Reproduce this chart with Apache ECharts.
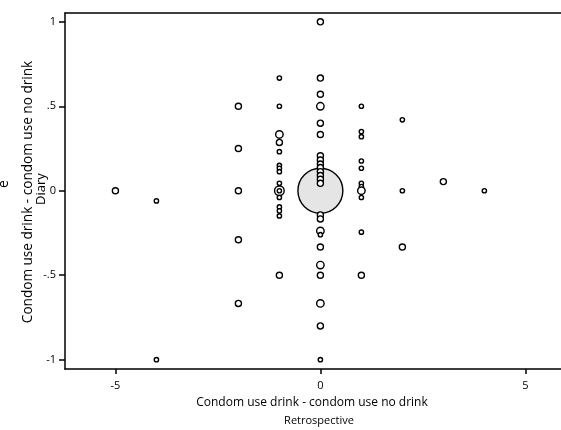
<!DOCTYPE html>
<html>
<head>
<meta charset="utf-8">
<script src="https://cdn.jsdelivr.net/npm/echarts@6/dist/echarts.min.js"></script>
<style>
html,body{margin:0;padding:0;background:#fff;}
#chart{width:561px;height:430px;}
</style>
</head>
<body>
<div id="chart"></div>
<script>
// Retrospective difference (x), Diary difference (y), frequency weight (w)
const xVals = [0,
  -5, -4, -4,
  -2, -2, -2, -2, -2,
  -1, -1, -1, -1, -1, -1, -1, -1, -1, -1, -1, -1, -1, -1, -1, -1,
  0, 0, 0, 0, 0, 0, 0, 0, 0, 0, 0, 0, 0, 0, 0, 0, 0, 0, 0, 0, 0, 0, 0, 0,
  1, 1, 1, 1, 1, 1, 1, 1, 1, 1, 1,
  2, 2, 2,
  3, 4];
const yVals = [0,
  0, -0.06, -1,
  0.5, 0.25, 0, -0.29, -0.667,
  0.667, 0.5, 0.333, 0.286, 0.231, 0.15, 0.133, 0.113, 0.044, 0, 0, -0.04, -0.096, -0.119, -0.149, -0.5,
  1, 0.667, 0.571, 0.5, 0.4, 0.333, 0.207, 0.182, 0.158, 0.137, 0.113, 0.09, 0.068, 0.044, -0.143, -0.167, -0.238, -0.26, -0.333, -0.44, -0.5, -0.667, -0.8, -1,
  0.5, 0.35, 0.32, 0.176, 0.133, 0.044, 0.025, 0, -0.04, -0.245, -0.5,
  0.42, 0, -0.333,
  0.054, 0];
const weights = [121,
  2, 1, 1,
  2, 2, 2, 2, 2,
  1, 1, 3, 2, 1, 1, 1, 1, 1, 5, 1, 1, 1, 1, 1, 2,
  2, 2, 2, 3, 2, 2, 2, 2, 2, 2, 2, 2, 2, 2, 2, 2, 3, 1, 2, 3, 2, 3, 2, 1,
  1, 1, 1, 1, 1, 1, 1, 3, 1, 1, 2,
  1, 1, 2,
  2, 1];
const xTicks = [-5, 0, 5];
const xTickLabels = ['-5', '0', '5'];
const yTicks = [-1, -0.5, 0, 0.5, 1];
const yTickLabels = ['-1', '-.5', '0', '.5', '1'];
const xTitle = 'Condom use drink - condom use no drink';
const xSubTitle = 'Retrospective';
const yTitle = 'Condom use drink - condom use no drink';
const ySubTitle = 'Diary';

const points = xVals.map((x, i) => [x, yVals[i], weights[i]]);

const FONT = 'Open Sans';
const chart = echarts.init(document.getElementById('chart'), null, {renderer: 'canvas'});
const axisLine = {show: true, onZero: false, lineStyle: {color: '#000', width: 1.5}};
chart.setOption({
  animation: false,
  backgroundColor: '#fff',
  grid: {left: 65, top: 13, right: 0, bottom: 61, containLabel: false},
  xAxis: [{
    type: 'value', min: -6.23, max: 5.87,
    axisLine: axisLine,
    axisTick: {show: true, length: 5, lineStyle: {color: '#000', width: 1.5}, customValues: xTicks},
    axisLabel: {color: '#000', fontFamily: FONT, fontSize: 11, margin: 11, customValues: xTicks,
      formatter: v => xTickLabels[xTicks.indexOf(v)] ?? ''},
    splitLine: {show: false}
  }, {
    type: 'value', min: -6.23, max: 5.87, position: 'top',
    axisLine: axisLine, axisTick: {show: false}, axisLabel: {show: false}, splitLine: {show: false}
  }],
  yAxis: {
    type: 'value', min: -1.055, max: 1.052,
    axisLine: axisLine,
    axisTick: {show: true, length: 6, lineStyle: {color: '#000', width: 1.5}, customValues: yTicks},
    axisLabel: {color: '#000', fontFamily: FONT, fontSize: 11, margin: 9, customValues: yTicks,
      formatter: v => yTickLabels[yTicks.findIndex(t => Math.abs(t - v) < 1e-9)] ?? ''},
    splitLine: {show: false}
  },
  series: [{
    type: 'scatter',
    data: points,
    symbol: 'circle',
    symbolSize: v => 4.3 * Math.sqrt(v[2]) * (v[2] > 50 ? 0.95 : 1),
    itemStyle: {
      color: p => p.value[2] > 50 ? '#e5e5e5' : '#ffffff',
      borderColor: '#000', borderWidth: 1.4, opacity: 1
    },
    emphasis: {disabled: true}
  }],
  graphic: [
    {type: 'text', x: 312, y: 403, style: {text: xTitle, fill: '#000', font: '12px "' + FONT + '"', align: 'center', verticalAlign: 'middle'}},
    {type: 'text', x: 319, y: 421, style: {text: xSubTitle, fill: '#000', font: '11px "' + FONT + '"', align: 'center', verticalAlign: 'middle'}},
    {type: 'text', x: 28, y: 192, rotation: Math.PI / 2, style: {text: yTitle, fill: '#000', font: '13.6px "' + FONT + '"', align: 'center', verticalAlign: 'middle'}},
    {type: 'text', x: 41, y: 189, rotation: Math.PI / 2, style: {text: ySubTitle, fill: '#000', font: '13px "' + FONT + '"', align: 'center', verticalAlign: 'middle'}},
    {type: 'text', x: 4, y: 184, rotation: Math.PI / 2, style: {text: 'e', fill: '#000', font: '14px "' + FONT + '"', align: 'center', verticalAlign: 'middle'}}
  ]
});
</script>
</body>
</html>
